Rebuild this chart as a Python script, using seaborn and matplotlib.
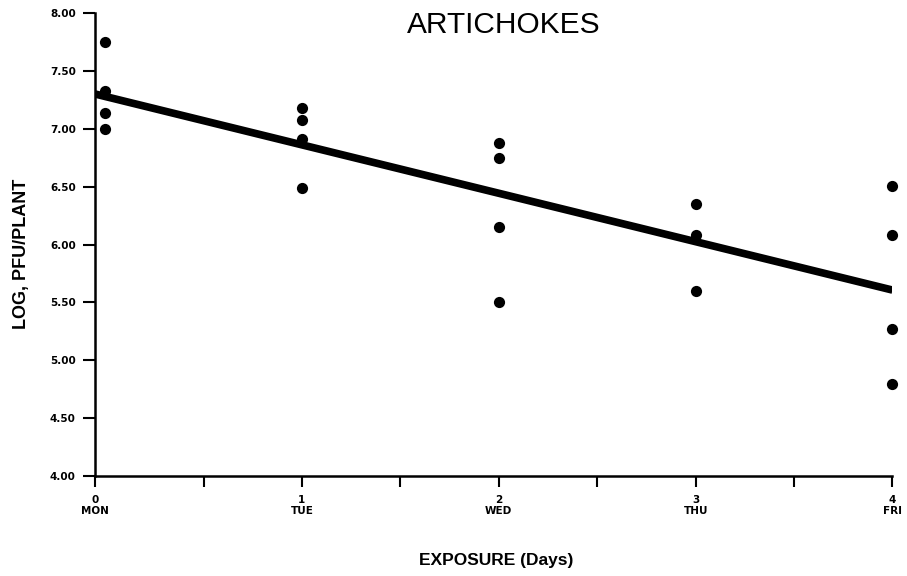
import numpy as np
import pandas as pd
import seaborn as sns
import matplotlib.pyplot as plt

# values
days = [0, 0, 0, 0,
        1, 1, 1, 1,
        2, 2, 2, 2,
        3, 3, 3,
        4, 4, 4, 4]
log_pfu = [7.75, 7.33, 7.14, 7.00,
           7.18, 7.08, 6.91, 6.49,
           6.88, 6.75, 6.15, 5.50,
           6.35, 6.08, 5.60,
           6.51, 6.08, 5.27, 4.79]
day_ticks = [0, 1, 2, 3, 4]
day_names = ['MON', 'TUE', 'WED', 'THU', 'FRI']
y_ticks = [4.0, 4.5, 5.0, 5.5, 6.0, 6.5, 7.0, 7.5, 8.0]

df = pd.DataFrame({'day': days, 'log_pfu': log_pfu})

sns.set_style('ticks', {'text.color': 'black', 'axes.labelcolor': 'black',
                        'xtick.color': 'black', 'ytick.color': 'black',
                        'axes.edgecolor': 'black'})
plt.rcParams['font.family'] = ['Liberation Sans', 'DejaVu Sans']

fig = plt.figure(figsize=(9.07, 5.76), dpi=100)
ax = fig.add_axes([0.105, 0.174, 0.879, 0.803])

x_left = -0.05
ax.set_xlim(x_left, 4.0)
ax.set_ylim(4.0, 8.0)

# fitted line runs across the whole axis (truncate=False)
sns.regplot(x='day', y='log_pfu', data=df, ci=None, ax=ax, truncate=False,
            scatter_kws={'s': 65, 'color': 'black', 'alpha': 1,
                         'clip_on': False, 'linewidths': 0},
            line_kws={'color': 'black', 'lw': 5.5, 'solid_capstyle': 'butt'})

ax.set_xlim(x_left, 4.0)
ax.set_ylim(4.0, 8.0)
tick_font = dict(family='DejaVu Sans', size=7.5, weight='bold')
# the first tick sits on the axis line, as in the original
ax.set_xticks([x_left] + day_ticks[1:])
ax.set_xticklabels(['{}\n{}'.format(d, n) for d, n in zip(day_ticks, day_names)],
                   fontdict=tick_font, linespacing=1.15)
ax.set_xticks([0.5, 1.5, 2.5, 3.5], minor=True)
ax.set_yticks(y_ticks)
ax.set_yticklabels(['{:.2f}'.format(v) for v in y_ticks], fontdict=tick_font)
ax.tick_params(axis='y', length=9, width=1.5, pad=5)
ax.tick_params(axis='x', which='both', length=8, width=1.5, pad=6)

sns.despine(ax=ax)
for s in ['left', 'bottom']:
    ax.spines[s].set_linewidth(1.8)

ax.set_xlabel('EXPOSURE (Days)', fontsize=12.5, fontweight='semibold')
ax.xaxis.set_label_coords(0.503, -0.168)
ax.set_ylabel('LOG, PFU/PLANT', fontsize=13, fontweight='bold')
ax.yaxis.set_label_coords(-0.082, 0.48)
ax.text(0.512, 1.005, 'ARTICHOKES', transform=ax.transAxes,
        ha='center', va='top', fontsize=21.5)

fig.savefig('out.png', dpi=100)
